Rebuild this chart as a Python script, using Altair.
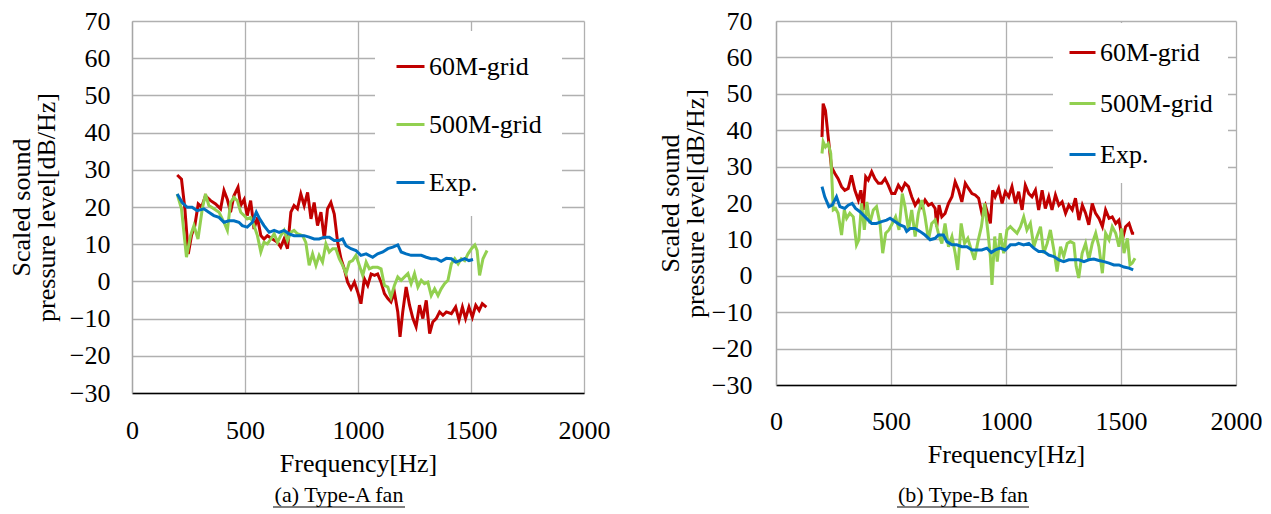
import altair as alt
import pandas as pd

SERIES = ["60M-grid", "500M-grid", "Exp."]
COLORS = ["#C00000", "#92D050", "#0070C0"]
FONT = "Liberation Serif"

# ---------------- (a) Type-A fan ----------------
a_60m_f = [200, 219, 234, 249, 263, 278, 293, 308, 325, 348, 370, 392, 407, 422, 436, 451, 469, 481, 496, 510,
           525, 540, 555, 570, 584, 599, 621, 644, 658, 673, 688, 703, 717, 732, 747, 762, 777, 792, 806, 821,
           836, 851, 865, 880, 895, 910, 925, 939, 954, 969, 984, 999, 1013, 1028, 1043, 1058, 1073, 1087, 1102, 1117,
           1132, 1146, 1161, 1176, 1186, 1198, 1213, 1228, 1243, 1257, 1272, 1287, 1302, 1317, 1331, 1346, 1361, 1376, 1391, 1413,
           1432, 1447, 1462, 1476, 1491, 1506, 1521, 1536, 1550, 1568]
a_60m_v = [28.6, 27.5, 19.5, 7.4, 12.3, 15.0, 20.8, 20.0, 23.0, 21.7, 20.8, 19.5, 24.4, 22.0, 18.6, 23.0, 25.3, 20.4, 22.0, 17.7,
           21.7, 14.1, 17.2, 12.3, 11.4, 12.3, 11.4, 10.5, 9.2, 11.4, 8.8, 18.6, 20.4, 19.5, 23.5, 20.4, 23.9, 16.8, 21.2, 15.0,
           18.6, 11.4, 19.5, 21.2, 18.1, 10.5, 6.0, 3.4, -0.2, -2.0, -0.2, -2.9, -6.0, 0.7, -1.1, 2.0, 1.6, 2.0, -0.2, -3.3,
           -4.6, -5.5, -2.9, -8.2, -14.9, -8.2, -1.5, -6.4, -10.0, -12.2, -6.4, -10.0, -5.1, -14.0, -10.9, -10.0, -8.2, -9.1, -8.2, -8.7,
           -6.9, -10.4, -6.9, -10.0, -6.9, -9.6, -6.4, -7.8, -6.0, -6.9]

a_500m_f = [200, 219, 241, 259, 274, 292, 311, 325, 340, 362, 385, 407, 422, 436, 451, 466, 481, 496, 510, 525,
            540, 555, 570, 584, 599, 614, 629, 644, 658, 673, 688, 703, 717, 732, 755, 769, 784, 799, 814, 828,
            843, 858, 873, 888, 902, 917, 932, 947, 962, 976, 991, 1006, 1021, 1036, 1050, 1065, 1087, 1102, 1117, 1132,
            1146, 1161, 1176, 1191, 1206, 1221, 1235, 1250, 1265, 1280, 1294, 1309, 1324, 1339, 1354, 1368, 1383, 1398, 1413, 1428,
            1443, 1457, 1472, 1487, 1502, 1517, 1527, 1538, 1553, 1571]
a_500m_v = [23.5, 19.5, 6.5, 12.3, 15.0, 11.4, 19.5, 23.5, 20.4, 19.5, 18.6, 15.9, 13.7, 21.2, 22.6, 21.7, 18.6, 17.7, 16.8, 17.2,
            15.0, 12.3, 7.9, 10.5, 10.1, 11.4, 12.8, 10.5, 12.3, 13.7, 11.0, 13.2, 13.7, 12.8, 12.3, 10.5, 4.3, 7.4, 4.3, 7.0,
            5.2, 10.1, 7.9, 8.8, 8.8, 6.1, 4.3, 2.1, 5.2, 5.6, 7.0, 4.3, 1.6, 5.2, 3.4, 3.8, 3.8, 3.4, -1.1, -1.5,
            -4.2, -1.1, 1.2, 0.3, 1.2, 2.1, -0.6, 2.1, -1.5, 0.3, -0.6, -0.2, -3.8, -2.0, -3.8, -2.0, -0.6, 0.3, 4.7, 6.1,
            4.7, 6.1, 5.6, 7.4, 8.8, 9.8, 8.3, 1.6, 6.1, 8.3]

a_exp_f = [200, 222, 244, 266, 288, 318, 340, 362, 385, 407, 429, 451, 473, 488, 510, 533, 550, 565, 584, 607,
           629, 651, 673, 695, 717, 740, 762, 784, 806, 828, 851, 873, 895, 917, 932, 947, 969, 991, 1013, 1036,
           1065, 1087, 1110, 1132, 1154, 1176, 1191, 1213, 1235, 1257, 1280, 1302, 1324, 1346, 1368, 1391, 1413, 1432, 1450, 1472,
           1491, 1509]
a_exp_v = [23.5, 21.2, 19.9, 19.9, 19.0, 19.5, 18.6, 17.7, 17.2, 15.9, 16.3, 16.3, 15.9, 15.0, 14.6, 15.9, 18.6, 16.8, 15.0, 13.2,
           13.7, 13.2, 13.7, 12.8, 12.3, 12.3, 12.3, 11.9, 11.4, 11.4, 11.9, 11.9, 11.0, 11.0, 11.4, 9.6, 8.8, 8.3, 7.0, 7.4,
           6.5, 7.4, 7.9, 8.8, 9.2, 9.8, 7.9, 7.4, 7.0, 7.0, 7.0, 6.5, 6.1, 6.1, 5.4, 6.2, 6.1, 5.2, 5.6, 6.1,
           5.6, 5.9]

# ---------------- (b) Type-B fan ----------------
b_60m_f = [200, 205, 215, 227, 241, 256, 270, 285, 299, 314, 328, 343, 358, 369, 379, 390, 401, 416, 430, 445,
           459, 474, 488, 503, 517, 532, 547, 561, 576, 590, 605, 619, 634, 648, 663, 677, 692, 699, 709, 721,
           735, 750, 765, 779, 794, 808, 823, 837, 852, 866, 881, 895, 910, 924, 932, 942, 953, 968, 983, 997,
           1012, 1026, 1041, 1055, 1070, 1084, 1099, 1113, 1128, 1142, 1157, 1171, 1186, 1200, 1215, 1230, 1244, 1259, 1273, 1288,
           1302, 1317, 1332, 1346, 1360, 1375, 1389, 1404, 1419, 1433, 1448, 1462, 1477, 1491, 1506, 1520, 1535, 1549, 1557]
b_60m_v = [38.1, 47.3, 45.4, 38.1, 29.9, 28.1, 26.7, 24.5, 23.5, 24.0, 27.6, 23.5, 20.8, 23.5, 18.1, 27.2, 26.3, 28.6, 26.7, 25.4,
           25.4, 26.7, 24.9, 22.6, 22.6, 24.9, 23.5, 25.4, 24.5, 21.7, 19.4, 20.8, 19.0, 20.8, 19.4, 19.9, 18.5, 13.5, 19.4, 16.2,
           17.1, 19.9, 21.7, 25.8, 23.5, 20.3, 25.4, 24.0, 22.6, 22.2, 21.3, 17.2, 19.4, 16.2, 14.4, 23.5, 21.7, 24.0, 19.9, 23.1,
           21.7, 24.5, 19.9, 23.1, 18.1, 24.9, 22.6, 21.7, 23.5, 18.1, 23.5, 18.5, 21.7, 18.1, 22.2, 19.4, 20.3, 17.2, 19.4, 18.1,
           21.3, 15.3, 19.4, 17.2, 14.0, 19.9, 17.2, 15.8, 13.5, 18.1, 15.8, 16.2, 14.4, 15.3, 9.9, 13.5, 14.4, 11.7, 11.7]

b_500m_f = [200, 205, 215, 227, 238, 249, 259, 270, 285, 297, 307, 321, 336, 350, 360, 372, 384, 395, 408, 423,
            437, 452, 464, 477, 491, 506, 520, 535, 549, 561, 576, 590, 605, 619, 634, 648, 663, 677, 692, 706,
            721, 735, 750, 765, 779, 790, 805, 820, 834, 849, 863, 878, 893, 907, 922, 932, 939, 951, 962, 975,
            990, 1004, 1019, 1033, 1048, 1063, 1077, 1091, 1106, 1121, 1135, 1150, 1164, 1179, 1193, 1208, 1222, 1237, 1251, 1266,
            1280, 1295, 1305, 1316, 1331, 1346, 1360, 1375, 1390, 1404, 1419, 1433, 1448, 1462, 1477, 1491, 1503, 1513, 1528, 1539,
            1549, 1561]
b_500m_v = [33.6, 36.8, 35.4, 36.3, 33.6, 18.1, 18.5, 17.2, 11.2, 18.1, 15.8, 17.2, 16.2, 8.5, 9.9, 19.9, 12.6, 20.3, 14.4, 18.1,
            19.0, 14.4, 6.2, 11.7, 12.6, 14.4, 16.2, 12.6, 22.6, 19.0, 12.6, 18.1, 10.8, 17.2, 20.8, 16.2, 9.9, 14.4, 15.3, 11.7,
            8.9, 14.4, 8.0, 10.8, 6.2, 1.6, 14.4, 8.9, 10.3, 7.1, 4.4, 9.4, 13.5, 19.9, 11.7, 5.3, -2.5, 10.8, 3.9, 11.7,
            6.2, 12.6, 13.5, 12.6, 11.7, 13.5, 16.2, 12.6, 14.4, 8.0, 10.8, 13.5, 6.2, 8.9, 12.6, 7.1, 1.2, 8.0, 5.3, 8.9,
            9.4, 8.9, 2.6, -0.6, 6.2, 8.9, 4.4, 8.9, 11.7, 8.0, 0.7, 11.7, 9.9, 13.5, 11.7, 8.0, 13.0, 6.2, 10.3, 3.0,
            3.5, 4.8]

b_exp_f = [200, 212, 230, 244, 263, 278, 299, 314, 331, 346, 365, 379, 401, 416, 437, 459, 481, 496, 517, 539,
           558, 568, 583, 605, 626, 648, 670, 692, 706, 728, 743, 765, 786, 808, 830, 852, 874, 895, 917, 936,
           953, 975, 997, 1019, 1041, 1055, 1077, 1099, 1121, 1142, 1164, 1186, 1208, 1230, 1251, 1273, 1295, 1317, 1339, 1360,
           1382, 1404, 1426, 1448, 1469, 1491, 1513, 1535, 1553]
b_exp_v = [24.5, 21.7, 19.0, 19.4, 21.7, 19.0, 18.5, 19.4, 19.9, 18.5, 17.6, 16.7, 15.3, 14.4, 14.4, 14.9, 15.3, 15.8, 14.9, 14.0,
           13.5, 12.2, 13.0, 13.0, 12.2, 11.2, 9.9, 10.3, 11.2, 11.2, 9.4, 8.5, 8.5, 8.0, 8.0, 7.1, 7.1, 7.1, 7.6, 6.4,
           7.1, 7.6, 7.1, 8.5, 8.5, 8.9, 8.5, 8.9, 7.6, 6.7, 6.7, 5.7, 5.3, 4.4, 3.9, 4.4, 4.4, 4.4, 3.9, 4.4,
           4.6, 4.2, 3.9, 3.5, 3.0, 3.0, 2.4, 2.1, 1.6]

Y_TICKS = list(range(-30, 71, 10))
X_TICKS = [0, 500, 1000, 1500, 2000]


def frame(pairs):
    rows = []
    for name, fs, vs in pairs:
        for f, v in zip(fs, vs):
            rows.append({"f": f, "v": v, "series": name})
    return pd.DataFrame(rows)


df_a = frame([("60M-grid", a_60m_f, a_60m_v), ("500M-grid", a_500m_f, a_500m_v), ("Exp.", a_exp_f, a_exp_v)])
df_b = frame([("60M-grid", b_60m_f, b_60m_v), ("500M-grid", b_500m_f, b_500m_v), ("Exp.", b_exp_f, b_exp_v)])


def panel(df, W, H, subtitle, sub_x, sub_y, lx, ly, lpad, lrow, lsym,
          ylabpad, ytitlepad, xlabpad, xtitlepad):
    x = alt.X("f:Q", scale=alt.Scale(domain=[0, 2000], nice=False),
              axis=alt.Axis(values=X_TICKS, format="d", title="Frequency[Hz]", labelPadding=xlabpad,
                            titlePadding=xtitlepad, labelFlush=False,
                            labelFont=FONT, labelFontSize=26, titleFont=FONT, titleFontSize=26))
    y = alt.Y("v:Q", scale=alt.Scale(domain=[-30, 70], nice=False),
              axis=alt.Axis(values=Y_TICKS, format="d", title=["Scaled sound", "pressure level[dB/Hz]"],
                            labelPadding=ylabpad, titlePadding=ytitlepad, titleLineHeight=25,
                            labelFont=FONT, labelFontSize=26, titleFont=FONT, titleFontSize=26))
    legend = alt.Legend(orient="none", legendX=lx, legendY=ly, fillColor="white", padding=lpad,
                        rowPadding=lrow, symbolType="stroke", symbolSize=lsym * lsym,
                        symbolStrokeWidth=3, labelFont=FONT, labelFontSize=26, labelColor="black",
                        labelOffset=3, labelLimit=300, title=None)
    color = alt.Color("series:N", scale=alt.Scale(domain=SERIES, range=COLORS), legend=legend)
    base = alt.Chart(df)
    layers = []
    for s in SERIES:
        layers.append(
            base.transform_filter(alt.datum.series == s)
            .mark_line(strokeWidth=3)
            .encode(x=x, y=y, color=color)
        )
    sub_data = alt.Data(values=[{"t": subtitle}])
    text = alt.Chart(sub_data).mark_text(font=FONT, fontSize=22, color="black",
                                         align="center", baseline="middle").encode(
        x=alt.value(sub_x), y=alt.value(sub_y), text="t:N")
    underline = alt.Chart(sub_data).mark_rule(color="black", strokeWidth=1.2).encode(
        x=alt.value(sub_x - 66), x2=alt.value(sub_x + 66), y=alt.value(sub_y + 12))
    return alt.layer(*layers, text, underline).properties(width=W, height=H)


pa = panel(df_a, 452, 372, "(a) Type-A fan", 207, 474, 243, 10, 20, 29, 28, 22, 10, 24, 7)
pb = panel(df_b, 460, 364, "(b) Type-B fan", 187, 474, 277, 2, 15, 23, 26, 24, 3, 23, 7)

chart = (
    alt.hconcat(pa, pb, spacing=47)
    .resolve_scale(color="independent")
    .resolve_legend(color="independent")
    .configure(font=FONT)
    .configure_view(stroke=None)
    .configure_axis(labelFont=FONT, labelFontSize=26, labelColor="black",
                    titleFont=FONT, titleFontSize=26, titleFontWeight="normal", titleColor="black",
                    grid=True, gridColor="#B0B0B0", gridWidth=1.3, ticks=False)
    .configure_axisX(domainColor="black", domainWidth=1.5)
    .configure_axisY(domainColor="#A6A6A6", domainWidth=1.3)
    .properties(padding={"left": 0, "top": 0, "right": 0, "bottom": 0}, background="white")
)

chart.save("out.html", embed_options={"renderer": "svg", "actions": False})
